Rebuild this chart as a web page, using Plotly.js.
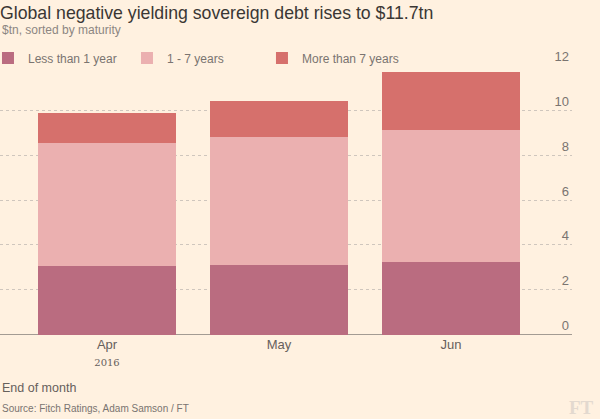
<!DOCTYPE html>
<html>
<head>
<meta charset="utf-8">
<script src="https://cdn.plot.ly/plotly-3.0.1.min.js"></script>
<style>
  html, body { margin: 0; padding: 0; background: #fff1e0; }
  #chart { width: 600px; height: 419px; }
</style>
</head>
<body>
<div id="chart"></div>
<script>
// ---- data ----
const months = ['Apr', 'May', 'Jun'];
const yearLabel = '2016';
const seriesNames = ['Less than 1 year', '1 - 7 years', 'More than 7 years'];
const lessThan1Year = [3.05, 3.08, 3.24];
const oneToSevenYears = [5.48, 5.73, 5.87];
const moreThan7Years = [1.34, 1.60, 2.62];
const yTickValues = [0, 2, 4, 6, 8, 10, 12];

// ---- styles ----
const colors = ['#ba6c80', '#ebb0b0', '#d6706c'];
const FONT = '"Liberation Sans", Arial, sans-serif';
const seriesValues = [lessThan1Year, oneToSevenYears, moreThan7Years];
const legendIds = ['legend', 'legend2', 'legend3'];
const legendX = [-0.021, 0.222, 0.458];

const traces = seriesValues.map((vals, i) => ({
  type: 'bar',
  name: seriesNames[i],
  x: months,
  y: vals,
  legend: legendIds[i],
  marker: { color: colors[i], line: { width: 0 } },
  hoverinfo: 'skip'
}));

const tickText = months.map((m, i) =>
  i === 0 ? m + '<br><span style="font-size:10px;font-family:\'DejaVu Serif\',serif;">' + yearLabel + '</span>' : m);

const Y0 = -0.02, Y1 = 12.02;
const plotH = 270 + 0.04 * 22.5;

const layout = {
  width: 600,
  height: 419,
  paper_bgcolor: '#fff1e0',
  plot_bgcolor: '#fff1e0',
  barmode: 'stack',
  bargap: 0.2,
  showlegend: true,
  margin: { l: 0, r: 28, t: 65 - 0.45, b: 84 - 0.45, autoexpand: false },
  font: { family: FONT, color: '#66605c' },
  title: {
    text: 'Global negative yielding sovereign debt rises to $11.7tn',
    x: 0, xref: 'container', xanchor: 'left',
    y: 1 - 13 / 419, yref: 'container', yanchor: 'middle',
    font: { family: FONT, size: 17.7, color: '#3a3734' }
  },
  xaxis: {
    type: 'category',
    range: [-0.622, 2.703],
    tickvals: months,
    ticktext: tickText,
    ticks: '',
    showgrid: false,
    zeroline: false,
    showline: false,
    tickfont: { family: FONT, size: 13, color: '#66605c' },
    fixedrange: true
  },
  yaxis: {
    range: [Y0, Y1],
    side: 'right',
    tickvals: yTickValues,
    ticks: '',
    ticklabelposition: 'inside',
    ticklabeloverflow: 'allow',
    ticklabelshift: -9,
    ticklabelstandoff: 0,
    showgrid: true,
    gridcolor: '#cfc6bd',
    griddash: 'dot',
    gridwidth: 1,
    zeroline: true,
    zerolinecolor: '#a39b93',
    zerolinewidth: 1,
    showline: false,
    tickfont: { family: FONT, size: 13, color: '#7a7470' },
    fixedrange: true
  },
  annotations: [
    { text: '$tn, sorted by maturity', xref: 'paper', yref: 'paper', x: 0, xanchor: 'left',
      y: 1 + (65 - 30) / plotH, yanchor: 'middle', showarrow: false,
      font: { family: FONT, size: 12, color: '#8c8682' } },
    { text: 'End of month', xref: 'paper', yref: 'paper', x: 0, xanchor: 'left',
      y: -(388 - 335) / plotH, yanchor: 'middle', showarrow: false,
      font: { family: FONT, size: 12.5, color: '#66605c' } },
    { text: 'Source: Fitch Ratings, Adam Samson / FT', xref: 'paper', yref: 'paper', x: 0, xanchor: 'left',
      y: -(409 - 335) / plotH, yanchor: 'middle', showarrow: false,
      font: { family: FONT, size: 10, color: '#7a7470' } },
    { text: '<b>FT</b>', xref: 'paper', yref: 'paper', x: 1 + 24 / 572, xanchor: 'right',
      y: -(408 - 335) / plotH, yanchor: 'middle', showarrow: false,
      font: { family: '"Liberation Serif", "DejaVu Serif", serif', size: 19, color: '#e3d9cf' } }
  ]
};

legendIds.forEach((id, i) => {
  layout[id] = {
    orientation: 'h',
    x: legendX[i], xanchor: 'left',
    y: 1 + 7 / plotH, yanchor: 'middle',
    font: { family: FONT, size: 12, color: '#7a7470' },
    bgcolor: 'rgba(0,0,0,0)'
  };
});

Plotly.newPlot('chart', traces, layout, { displayModeBar: false, staticPlot: true });
</script>
</body>
</html>
